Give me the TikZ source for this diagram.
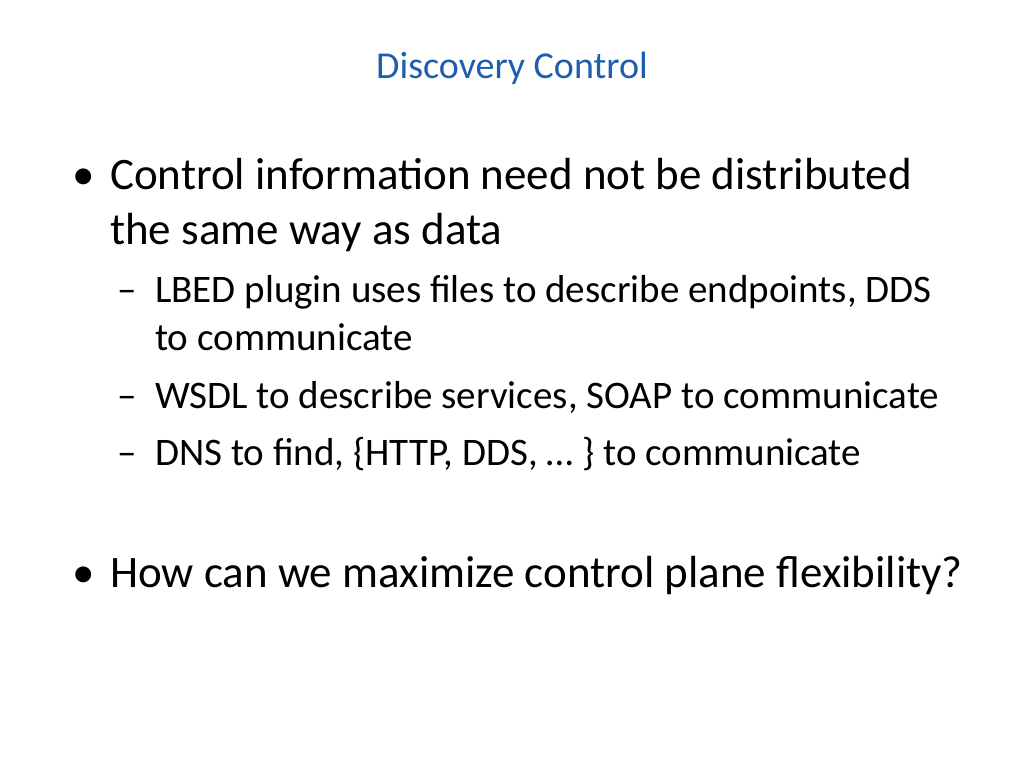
\documentclass[tikz,border=0pt]{standalone}
\usepackage{fontspec}
\setmainfont{Carlito}
\definecolor{titleblue}{RGB}{31,94,172}
\begin{document}
\begin{tikzpicture}[x=1pt,y=-1pt]
\tikzset{every node/.style={inner sep=0pt,anchor=base west},
  main/.style={font=\fontsize{45}{54}\selectfont},
  sub/.style={font=\fontsize{39}{47}\selectfont}}
\useasboundingbox (0,0) rectangle (1024,768);
\node[font=\fontsize{38}{46}\selectfont,text=titleblue,anchor=base] (title) at (512,78) {Discovery Control};
\node[main] (b1) at (72,189) {•};
\node[main] (l1) at (110,189) {Control information need not be distributed};
\node[main] (l2) at (110,244) {the same way as data};
\node[sub] (d1) at (117,302) {–};
\node[sub] (s1) at (155,302) {LBED plugin uses files to describe endpoints, DDS};
\node[sub] (s1b) at (155,350) {to communicate};
\node[sub] (d2) at (117,408) {–};
\node[sub] (s2) at (155,408) {WSDL to describe services, SOAP to communicate};
\node[sub] (d3) at (117,465) {–};
\node[sub] (s3) at (155,465) {DNS to find, \{HTTP, DDS, … \} to communicate};
\node[main] (b2) at (72,587) {•};
\node[main] (l3) at (110,587) {How can we maximize control plane flexibility?};
\end{tikzpicture}
\end{document}
